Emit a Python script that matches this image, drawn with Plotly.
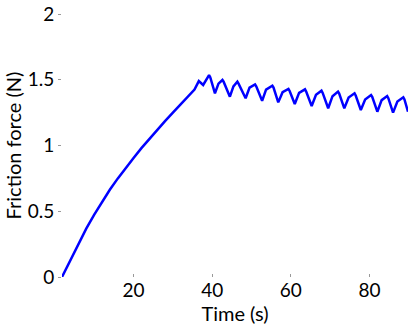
import plotly.graph_objects as go

# Time (s) and friction force (N)
time_s = [1.8, 4, 6, 8, 10, 12, 14, 16, 18, 20, 22, 24, 26, 28, 30, 32, 34,
          35.5, 36.6, 37.7, 39.2, 39.5,
          40.7, 41.6, 42.6, 42.9, 44.5, 45.4, 46.4, 46.7, 48.5, 49.5, 50.9, 51.2,
          52.7, 53.7, 55.3, 55.6, 56.8, 57.9, 59.4, 59.7, 61.0, 62.1, 63.6, 63.9,
          65.3, 66.4, 67.8, 68.1, 69.5, 70.6, 72.0, 72.3, 73.6, 74.7, 76.2, 76.5,
          77.8, 78.9, 80.4, 80.7, 82.0, 83.1, 84.5, 84.8, 86.0, 87.1, 88.6, 88.9,
          89.8]
force_n = [0, 0.135, 0.255, 0.37, 0.475, 0.575, 0.665, 0.75, 0.83, 0.905, 0.98,
           1.05, 1.12, 1.185, 1.25, 1.315, 1.375,
           1.425, 1.49, 1.46, 1.536, 1.52,
           1.397, 1.47, 1.498, 1.485, 1.371, 1.45, 1.485, 1.47, 1.359, 1.44, 1.465, 1.45,
           1.34, 1.425, 1.455, 1.44, 1.328, 1.405, 1.43, 1.415, 1.316, 1.40, 1.427, 1.41,
           1.30, 1.385, 1.417, 1.40, 1.283, 1.375, 1.41, 1.395, 1.283, 1.365, 1.397, 1.38,
           1.27, 1.35, 1.384, 1.37, 1.257, 1.345, 1.376, 1.36, 1.25, 1.335, 1.367, 1.35,
           1.257]

x_ticks = [20, 40, 60, 80]
y_ticks = [0, 0.5, 1, 1.5, 2]
y_labels = ["0", "0.5", "1", "1.5", "2"]

fig = go.Figure(go.Scatter(x=time_s, y=force_n, mode="lines",
                           line=dict(color="#0000ff", width=2.5)))

fig.update_layout(
    width=415, height=326,
    margin=dict(l=62, r=7, t=14, b=49),
    plot_bgcolor="white", paper_bgcolor="white",
    font=dict(family="Lato", size=19, color="black"),
    showlegend=False,
)
fig.update_xaxes(range=[1.8, 89.8], tickvals=x_ticks, ticks="inside",
                 ticklen=3, tickcolor="#999", showgrid=False, zeroline=False,
                 showline=False, automargin=False,
                 title=dict(text="Time (s)", standoff=0, font=dict(size=20)))
fig.update_yaxes(range=[0, 2], tickvals=y_ticks, ticktext=y_labels,
                 ticks="outside", ticklen=3, tickcolor="#999", showgrid=False,
                 zeroline=False, showline=False, automargin=False,
                 title=dict(text="Friction force (N)", standoff=0,
                            font=dict(size=20)))

# page body has a default 8px margin; drop it so the figure sits at the corner
fig.write_html("out.html", config={"displayModeBar": False},
               post_script="document.body.style.margin='0';")
